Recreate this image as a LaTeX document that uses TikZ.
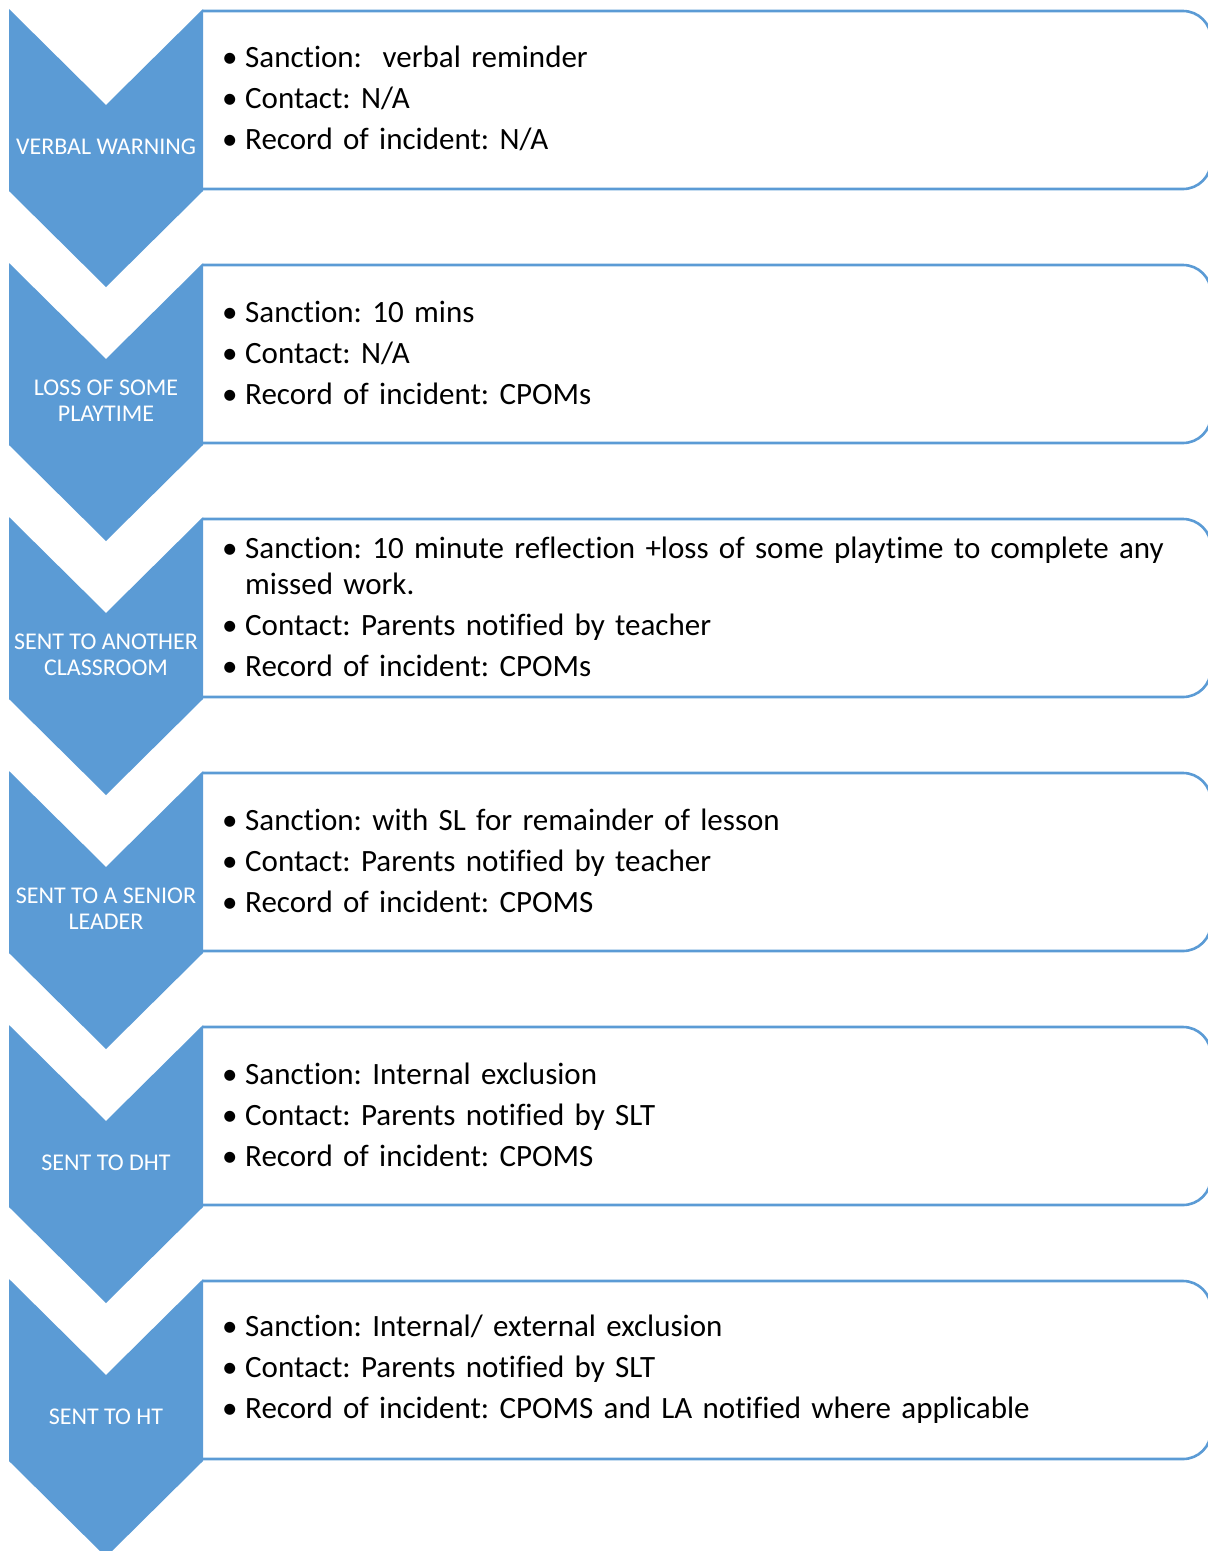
\documentclass[tikz,border=0pt]{standalone}
\usepackage{fontspec}
\setmainfont[Ligatures=NoCommon]{Carlito}
\frenchspacing
\definecolor{cblue}{HTML}{5B9BD5}
\newcommand{\bitm}[1]{\par\hangindent=23pt\hangafter=1\noindent\makebox[23pt][l]{\textbullet}#1}
\tikzset{
  chev/.style={fill=cblue, draw=none},
  chevlabel/.style={text=white, font=\fontsize{24}{26}\selectfont, align=center, inner sep=0pt},
  sbox/.style={draw=cblue, line width=2.6pt, rounded corners=28pt},
  sboxtext/.style={anchor=west, text width=975pt, align=left, inner sep=0pt,
    font=\fontsize{31}{36}\selectfont\frenchspacing\setlength{\parskip}{5pt}}
}
\begin{document}
\begin{tikzpicture}[x=1pt,y=-1pt]
\useasboundingbox (0,0) rectangle (1208,1551);
\clip (0,0) rectangle (1208,1551);
\foreach \t/\lab/\n in {9/{VERBAL WARNING}/1, 263/{LOSS OF SOME\\PLAYTIME}/2, 517/{SENT TO ANOTHER\\CLASSROOM}/3, 771/{SENT TO A SENIOR\\LEADER}/4, 1025/{SENT TO DHT}/5, 1279/{SENT TO HT}/6}{
  \path[chev] (9,\t) -- (106,\t+96) -- (203,\t) -- (203,\t+182) -- (106,\t+278) -- (9,\t+182) -- cycle;
  \node[chevlabel] (c\n) at (106,\t+138) {\lab};
  \draw[sbox] (203,\t+2) -- (1211,\t+2) -- (1211,\t+180) -- (203,\t+180);
}
\node[sboxtext] (t1) at (222,89) {\bitm{Sanction:\ \ verbal reminder}\bitm{Contact: N/A}\bitm{Record of incident: N/A}};
\node[sboxtext] (t2) at (222,343) {\bitm{Sanction: 10 mins}\bitm{Contact: N/A}\bitm{Record of incident: CPOMs}};
\node[sboxtext] (t3) at (222,597) {\bitm{Sanction: 10 minute reflection +loss of some playtime to complete any\newline missed work.}\bitm{Contact: Parents notified by teacher}\bitm{Record of incident: CPOMs}};
\node[sboxtext] (t4) at (222,851) {\bitm{Sanction: with SL for remainder of lesson}\bitm{Contact: Parents notified by teacher}\bitm{Record of incident: CPOMS}};
\node[sboxtext] (t5) at (222,1105) {\bitm{Sanction: Internal exclusion}\bitm{Contact: Parents notified by SLT}\bitm{Record of incident: CPOMS}};
\node[sboxtext] (t6) at (222,1359) {\bitm{Sanction: Internal/ external exclusion}\bitm{Contact: Parents notified by SLT}\bitm{Record of incident: CPOMS and LA notified where applicable}};
\end{tikzpicture}
\end{document}
